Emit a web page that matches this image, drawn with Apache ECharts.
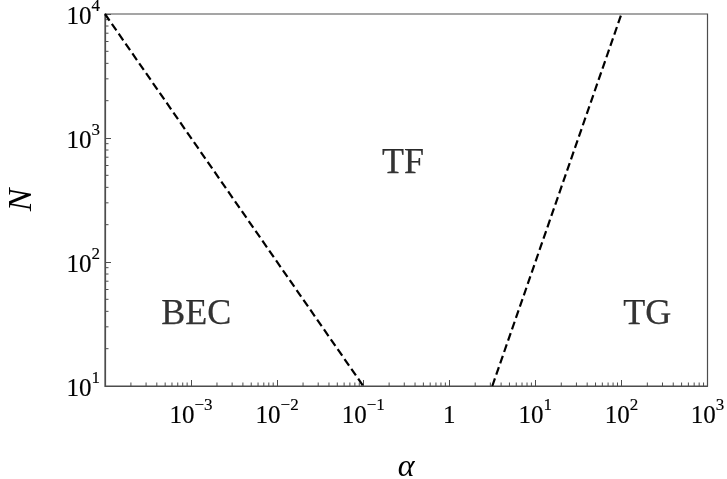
<!DOCTYPE html>
<html>
<head>
<meta charset="utf-8">
<script src="https://cdn.jsdelivr.net/npm/echarts@6/dist/echarts.min.js"></script>
<style>
  html, body { margin: 0; padding: 0; background: #fff; }
  #chart { width: 727px; height: 479px; }
</style>
</head>
<body>
<div id="chart"></div>
<script>
// Axis ranges and tick values (log scales)
const xMin = 1e-4, xMax = 1e3;
const yMin = 10, yMax = 1e4;
const xMajorTicks = [1e-4, 1e-3, 1e-2, 1e-1, 1, 10, 100, 1000];
const yMajorTicks = [10, 100, 1000, 10000];
const minorMultipliers = [2, 3, 4, 5, 6, 7, 8, 9];

// Regime boundaries: N = 1/alpha (BEC|TF) and N = alpha^2 (TF|TG)
const becTfBoundary = [[1e-4, 1e4], [0.1, 10]];
const tfTgBoundary = [[3.162, 10], [100, 1e4]];

// Region names and where they sit in (alpha, N)
const regionNames = ['BEC', 'TF', 'TG'];
const regionAlpha = [1.15e-3, 0.29, 200];
const regionN = [37.5, 617, 38];

const serif = 'Liberation Serif';
const axisColor = '#4d4d4d';

// minor tick values between major ticks
function minorValues(majors, max) {
  const out = [];
  majors.forEach(m => minorMultipliers.forEach(k => {
    const v = m * k;
    if (v < max) out.push(v);
  }));
  return out;
}
const xMinor = minorValues(xMajorTicks, xMax);
const yMinor = minorValues(yMajorTicks, yMax);

function powLabel(v) {
  if (v === 1) return '{b|1}';
  const e = Math.round(Math.log10(v));
  const exp = e < 0 ? '\u2212' + (-e) : String(e);
  return '{b|10}{s|' + exp + '}';
}

const richTick = {
  b: { fontFamily: serif, fontSize: 25, color: '#000', lineHeight: 32, verticalAlign: 'bottom',
       textBorderColor: '#000', textBorderWidth: 0.15 },
  s: { fontFamily: serif, fontSize: 17, color: '#000', lineHeight: 17, verticalAlign: 'top',
       textBorderColor: '#000', textBorderWidth: 0.15 }
};

const chart = echarts.init(document.getElementById('chart'), null, { renderer: 'canvas' });

chart.setOption({
  animation: false,
  backgroundColor: '#fff',
  textStyle: { fontFamily: serif, color: '#000' },
  grid: {
    left: 105, top: 14, right: 19.5, bottom: 93,
    outerBoundsMode: 'none', containLabel: false,
    show: true, borderColor: axisColor, borderWidth: 1.2, backgroundColor: 'transparent'
  },
  xAxis: {
    type: 'log', logBase: 10, min: xMin, max: xMax, interval: 1,
    name: 'α', nameLocation: 'middle', nameGap: 66,
    nameTextStyle: { fontFamily: serif, fontStyle: 'italic', fontSize: 32, color: '#000' },
    axisLine: { show: true, lineStyle: { color: axisColor, width: 1.2 } },
    axisTick: { show: true, inside: true, length: 6, lineStyle: { color: axisColor, width: 1 } },
    splitLine: { show: false },
    minorTick: { show: false },
    axisLabel: {
      showMinLabel: false, margin: 11,
      formatter: powLabel, rich: richTick
    }
  },
  yAxis: {
    type: 'log', logBase: 10, min: yMin, max: yMax, interval: 1,
    name: 'N', nameLocation: 'middle', nameGap: 66, nameRotate: 90,
    nameTextStyle: { fontFamily: serif, fontStyle: 'italic', fontSize: 34, color: '#000' },
    axisLine: { show: true, lineStyle: { color: axisColor, width: 1.2 } },
    axisTick: { show: true, inside: true, length: 6, lineStyle: { color: axisColor, width: 1 } },
    splitLine: { show: false },
    minorTick: { show: false },
    axisLabel: { margin: 5, formatter: powLabel, rich: richTick }
  },
  series: [
    {
      type: 'line', data: becTfBoundary, symbol: 'none', silent: true,
      lineStyle: { color: '#000', width: 2.2, type: [8, 4] }
    },
    {
      type: 'line', data: tfTgBoundary, symbol: 'none', silent: true,
      lineStyle: { color: '#000', width: 2.2, type: [8, 4] }
    },
    {
      // minor ticks along the bottom axis
      type: 'custom', silent: true, clip: false,
      data: xMinor.map(v => [v, yMin]),
      renderItem: function (params, api) {
        const p = api.coord([api.value(0), api.value(1)]);
        return {
          type: 'line',
          shape: { x1: p[0], y1: p[1], x2: p[0], y2: p[1] - 3.5 },
          style: { stroke: axisColor, lineWidth: 1 }
        };
      }
    },
    {
      // minor ticks along the left axis
      type: 'custom', silent: true, clip: false,
      data: yMinor.map(v => [xMin, v]),
      renderItem: function (params, api) {
        const p = api.coord([api.value(0), api.value(1)]);
        return {
          type: 'line',
          shape: { x1: p[0], y1: p[1], x2: p[0] + 3.5, y2: p[1] },
          style: { stroke: axisColor, lineWidth: 1 }
        };
      }
    },
    {
      type: 'scatter', silent: true, symbolSize: 0,
      data: regionNames.map((name, i) => ({ name: name, value: [regionAlpha[i], regionN[i]] })),
      label: {
        show: true, position: 'inside',
        formatter: p => p.name,
        fontFamily: serif, fontSize: 36, color: '#000',
        textBorderColor: '#000', textBorderWidth: 0.25
      }
    }
  ]
});
</script>
</body>
</html>
